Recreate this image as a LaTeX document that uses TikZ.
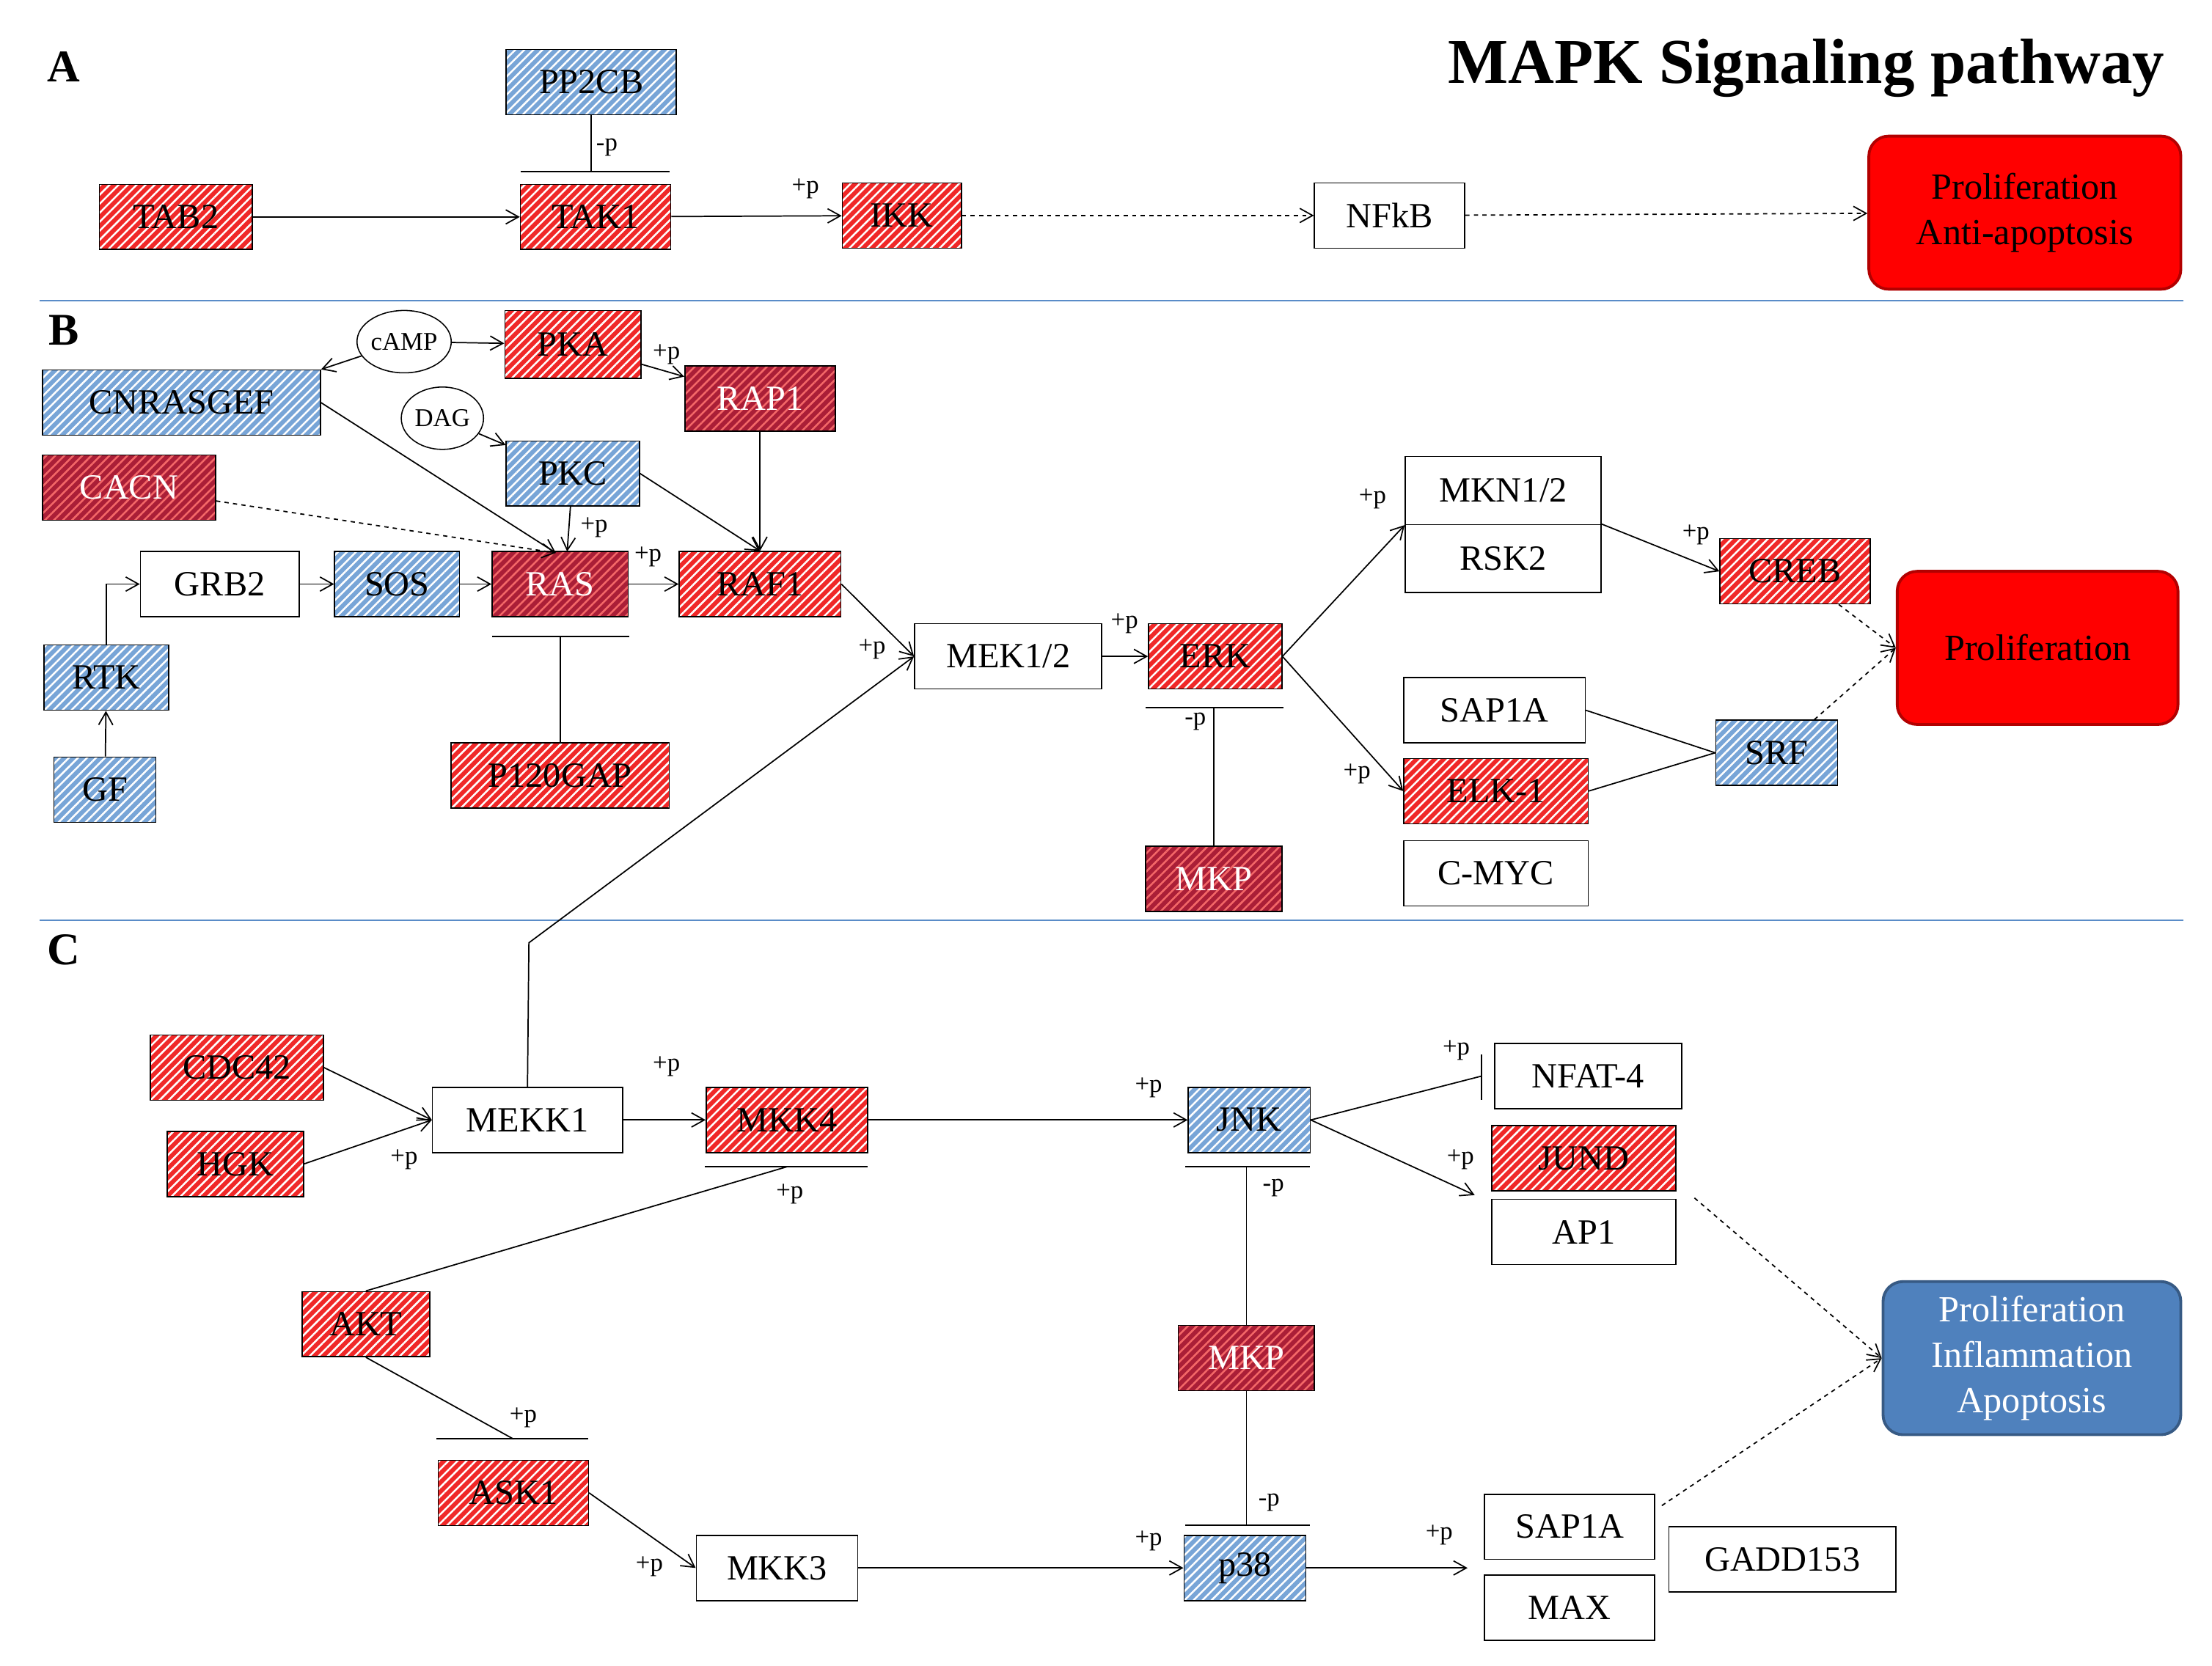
\documentclass[tikz,border=0pt]{standalone}
\usepackage{fontspec}
\setmainfont{Liberation Serif}
\usetikzlibrary{arrows.meta,patterns.meta,shapes.geometric}
\definecolor{hred}{RGB}{240,40,40}
\definecolor{hblue}{RGB}{120,165,215}
\definecolor{hdark}{RGB}{170,30,55}
\definecolor{sepblue}{RGB}{90,140,200}
\definecolor{pblue}{RGB}{79,129,189}
\tikzset{
 box/.style={draw, line width=0.8pt, minimum height=46pt, inner sep=0pt, font=\fontsize{25}{27}\selectfont, fill=white},
 hb/.style 2 args={box, fill=#1, postaction={pattern={Lines[angle=45,distance=4.5pt,line width=1.3pt]}, pattern color=#2}, postaction={draw, line width=0.8pt}},
 red/.style={hb={hred}{white}},
 blu/.style={hb={hblue}{white}},
 drk/.style={hb={hdark}{hred!70}, text=white},
 wht/.style={box},
 ell/.style={draw, ellipse, line width=0.8pt, minimum width=62pt, minimum height=44pt, inner sep=0pt, font=\fontsize{18}{20}\selectfont, fill=white},
 out/.style={draw=#1!70!black, fill=#1, rounded corners=14pt, line width=2pt, minimum width=220pt, minimum height=108pt, align=center, font=\fontsize{26}{32}\selectfont},
 ar/.style={-{Straight Barb[length=9pt,width=10pt]}, line width=0.9pt},
 da/.style={ar, dashed},
 ln/.style={line width=0.9pt},
 lab/.style={font=\fontsize{18}{20}\selectfont, inner sep=0pt},
 pan/.style={font=\bfseries\fontsize{32}{34}\selectfont},
 sep/.style={draw=sepblue, line width=1pt},
}
\begin{document}
\begin{tikzpicture}[x=1pt,y=-1pt]
\useasboundingbox (0,0) rectangle (1560,1175);
% ---------- A
\node[pan] at (45,47) {A};
\node[font=\bfseries\fontsize{45}{48}\selectfont] (title) at (1274,48) {MAPK Signaling pathway};
\node[blu,minimum width=120pt] (pp2cb) at (417,58) {PP2CB};
\node[red,minimum width=108pt] (tab2) at (124,153) {TAB2};
\node[red,minimum width=106pt] (tak1) at (420,153) {TAK1};
\node[red,minimum width=84pt] (ikk) at (636,152) {IKK};
\node[wht,minimum width=106pt] (nfkb) at (980,152) {NFkB};
\node[out=red] (pa) at (1428,150) {Proliferation\\Anti-apoptosis};
\coordinate (barA) at (417,121);
\draw[ln] (pp2cb) -- (barA);
\draw[ln] (367,121) -- (472,121);
\node[lab] at (428,104) {-p};
\draw[ar] (tab2) -- (tak1);
\draw[ar] (tak1) -- (ikk);
\node[lab] at (568,133) {+p};
\draw[da] (ikk) -- (nfkb);
\draw[da] (nfkb) -- (pa);
\draw[sep] (28,212) -- (1540,212);
% ---------- B
\node[pan] at (45,233) {B};
\node[ell] (camp) at (285,241) {cAMP};
\node[ell,minimum width=58pt] (dag) at (312,295) {DAG};
\node[red,minimum width=96pt,minimum height=48pt] (pka) at (404,243) {PKA};
\node[drk,minimum width=106pt] (rap1) at (536,281) {RAP1};
\node[blu,minimum width=196pt] (cnr) at (128,284) {CNRASGEF};
\node[drk,minimum width=122pt] (cacn) at (91,344) {CACN};
\node[blu,minimum width=94pt] (pkc) at (404,334) {PKC};
\node[wht,minimum width=112pt] (grb2) at (155,412) {GRB2};
\node[blu,minimum width=88pt] (sos) at (280,412) {SOS};
\node[drk,minimum width=96pt] (ras) at (395,412) {RAS};
\node[red,minimum width=114pt] (raf1) at (536,412) {RAF1};
\node[blu,minimum width=88pt] (rtk) at (75,478) {RTK};
\node[blu,minimum width=72pt] (gf) at (74,557) {GF};
\node[red,minimum width=154pt] (p120) at (395,547) {P120GAP};
\node[wht,minimum width=132pt] (mek) at (711,463) {MEK1/2};
\node[red,minimum width=94pt] (erk) at (857,463) {ERK};
\node[drk,minimum width=96pt] (mkpb) at (856,620) {MKP};
\node[wht,minimum width=138pt,minimum height=48pt] (mkn) at (1060,346) {MKN1/2};
\node[wht,minimum width=138pt,minimum height=48pt] (rsk2) at (1060,394) {RSK2};
\node[red,minimum width=106pt] (creb) at (1266,403) {CREB};
\node[out=red,minimum width=198pt] (prolB) at (1437,457) {Proliferation};
\node[wht,minimum width=128pt] (sap1b) at (1054,501) {SAP1A};
\node[red,minimum width=130pt] (elk) at (1055,558) {ELK-1};
\node[wht,minimum width=130pt] (cmyc) at (1055,616) {C-MYC};
\node[blu,minimum width=86pt] (srf) at (1253,531) {SRF};
\draw[ar] (camp) -- (pka);
\draw[ar] (camp) -- (cnr.north east);
\draw[ar] (pka) -- (rap1);
\node[lab] at (470,250) {+p};
\draw[ar] (dag) -- (pkc);
\coordinate (rasin) at (392,390);
\draw[ar] (cnr.east) -- (rasin);
\draw[da] (cacn) -- (rasin);
\draw[ar] (pkc) -- (400,389);
\node[lab] at (419,372) {+p};
\draw[ar] (pkc.east) -- (raf1.north);
\draw[ar] (rap1) -- (raf1);
\draw[ar] (rtk.north) |- (grb2.west);
\draw[ar] (gf) -- (rtk);
\draw[ar] (grb2) -- (sos);
\draw[ar] (sos) -- (ras);
\draw[ar] (ras) -- (raf1);
\node[lab] at (457,393) {+p};
\draw[ln] (p120) -- (395,449);
\draw[ln] (347,449) -- (444,449);
\draw[ar] (raf1.east) -- (mek.west);
\node[lab] at (615,458) {+p};
\draw[ar] (mek) -- (erk);
\node[lab] at (793,440) {+p};
\draw[ln] (mkpb) -- (856,499);
\draw[ln] (808,499) -- (905,499);
\node[lab] at (843,509) {-p};
\draw[ar] (erk.east) -- (mkn.south west);
\node[lab] at (968,352) {+p};
\draw[ar] (erk.east) -- (elk.west);
\node[lab] at (957,546) {+p};
\draw[ar] (rsk2.north east) -- (creb.west);
\node[lab] at (1196,377) {+p};
\draw[da] (creb) -- (prolB.west);
\draw[da] (srf) -- (prolB.west);
\draw[ln] (sap1b.east) -- (srf.west);
\draw[ln] (elk.east) -- (srf.west);
\draw[sep] (28,649) -- (1540,649);
% ---------- C
\node[pan] at (45,670) {C};
\node[red,minimum width=122pt] (cdc42) at (167,753) {CDC42};
\node[red,minimum width=96pt] (hgk) at (166,821) {HGK};
\node[wht,minimum width=134pt] (mekk1) at (372,790) {MEKK1};
\node[red,minimum width=114pt] (mkk4) at (555,790) {MKK4};
\node[blu,minimum width=86pt] (jnk) at (881,790) {JNK};
\node[wht,minimum width=132pt] (nfat) at (1120,759) {NFAT-4};
\node[red,minimum width=130pt] (jund) at (1117,817) {JUND};
\node[wht,minimum width=130pt] (ap1) at (1117,869) {AP1};
\node[red,minimum width=90pt] (akt) at (258,934) {AKT};
\node[drk,minimum width=96pt] (mkpc) at (879,958) {MKP};
\node[red,minimum width=106pt] (ask1) at (362,1053) {ASK1};
\node[wht,minimum width=114pt] (mkk3) at (548,1106) {MKK3};
\node[blu,minimum width=86pt] (p38) at (878,1106) {p38};
\node[wht,minimum width=120pt] (sap1c) at (1107,1077) {SAP1A};
\node[wht,minimum width=120pt] (max) at (1107,1134) {MAX};
\node[wht,minimum width=160pt] (gadd) at (1257,1100) {GADD153};
\node[out=pblue,text=white,minimum width=210pt] (pia) at (1433,958) {Proliferation\\Inflammation\\Apoptosis};
\coordinate (mk1) at (373,665);
\draw[ar] (mekk1.north) -- (mk1) -- (mek.west);
\draw[ar] (cdc42.east) -- (mekk1.west);
\draw[ar] (hgk.east) -- (mekk1.west);
\node[lab] at (285,818) {+p};
\draw[ar] (mekk1) -- (mkk4);
\node[lab] at (470,752) {+p};
\draw[ln] (akt.north) -- (555,823);
\draw[ln] (497,823) -- (612,823);
\node[lab] at (557,842) {+p};
\draw[ln] (akt.south) -- (362,1015);
\draw[ln] (308,1015) -- (415,1015);
\node[lab] at (369,1000) {+p};
\draw[ar] (ask1.east) -- (mkk3.west);
\node[lab] at (458,1105) {+p};
\draw[ar] (mkk3) -- (p38);
\node[lab] at (810,1087) {+p};
\draw[ar] (mkk4) -- (jnk);
\node[lab] at (810,767) {+p};
\coordinate (nfb) at (1045,759);
\draw[ln] (jnk.east) -- (nfb);
\draw[ln] (1045,744) -- (1045,776);
\node[lab] at (1027,741) {+p};
\coordinate (jin) at (1040,843);
\draw[ar] (jnk.east) -- (jin);
\node[lab] at (1030,818) {+p};
\draw[ln] (mkpc) -- (879,823);
\draw[ln] (836,823) -- (924,823);
\node[lab] at (898,838) {-p};
\draw[ln] (mkpc) -- (879,1076);
\draw[ln] (836,1076) -- (924,1076);
\node[lab] at (895,1060) {-p};
\coordinate (pin) at (1035,1106);
\draw[ar] (p38) -- (pin);
\node[lab] at (1015,1083) {+p};
\draw[da] (1195,845) -- (pia.west);
\draw[da] (1172,1062) -- (pia.west);
\end{tikzpicture}
\end{document}
